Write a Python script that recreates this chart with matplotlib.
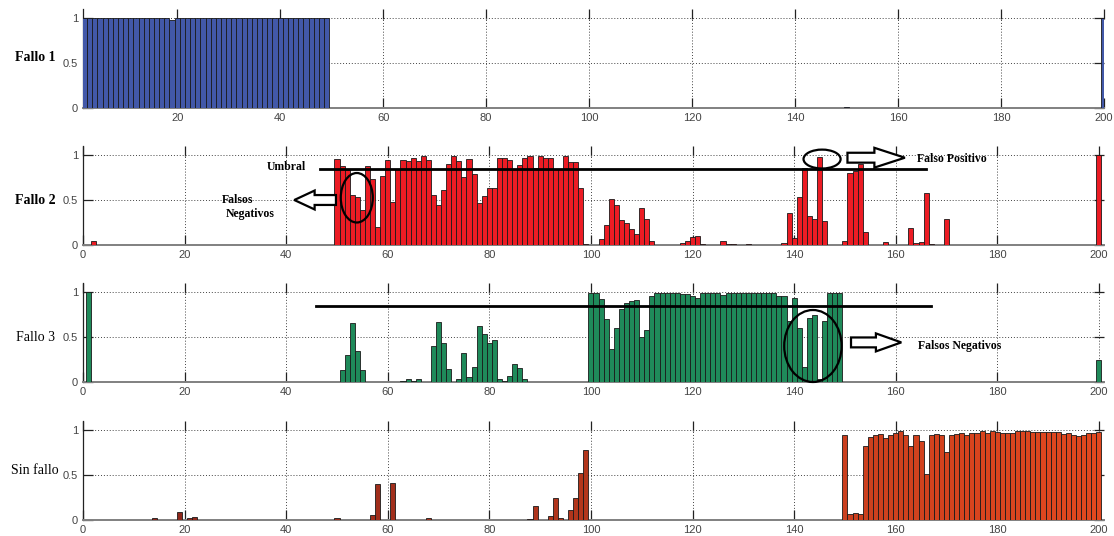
import numpy as np
from matplotlib import pyplot as plt
from matplotlib.patches import Ellipse, FancyArrow
from matplotlib.colors import LinearSegmentedColormap

# Fallo 1
f1_x = list(range(1, 50)) + [150, 184, 186, 187, 200]
f1_y = [1.0, 1.0, 1.0, 1.0, 1.0, 1.0, 1.0, 1.0, 1.0, 1.0,
        1.0, 1.0, 1.0, 1.0, 1.0, 1.0, 1.0, 1.0, 0.98, 1.0,
        1.0, 1.0, 1.0, 1.0, 1.0, 1.0, 1.0, 1.0, 1.0, 1.0,
        1.0, 1.0, 1.0, 1.0, 1.0, 1.0, 1.0, 1.0, 1.0, 1.0,
        1.0, 1.0, 1.0, 1.0, 1.0, 1.0, 1.0, 1.0, 1.0,
        0.012, 0.004, 0.004, 0.004, 1.0]

# Fallo 2
f2_x = ([1, 2] + list(range(50, 100)) + list(range(102, 113)) + list(range(117, 123))
        + [126, 127, 128, 131] + list(range(138, 147)) + list(range(150, 160))
        + list(range(163, 168)) + [170, 200])
f2_y = [0.005, 0.05,
        0.955, 0.874, 0.83, 0.555, 0.53, 0.39, 0.874, 0.73, 0.2, 0.77,
        0.944, 0.48, 0.84, 0.94, 0.93, 0.97, 0.93, 0.99, 0.94, 0.555,
        0.44, 0.61, 0.9, 0.985, 0.93, 0.76, 0.955, 0.79, 0.47, 0.545,
        0.63, 0.63, 0.97, 0.965, 0.944, 0.845, 0.89, 0.97, 0.985, 0.86,
        0.985, 0.965, 0.97, 0.845, 0.845, 0.99, 0.92, 0.92, 0.63, 0.01,
        0.067, 0.22, 0.51, 0.445, 0.28, 0.245, 0.18, 0.12, 0.41, 0.29, 0.05,
        0.005, 0.02, 0.04, 0.085, 0.095, 0.008,
        0.04, 0.007, 0.007, 0.007,
        0.02, 0.355, 0.078, 0.53, 0.86, 0.32, 0.29, 0.975, 0.27,
        0.04, 0.8, 0.826, 0.9, 0.14, 0.004, 0.004, 0.004, 0.03, 0.004,
        0.19, 0.02, 0.03, 0.575, 0.01,
        0.29, 1.0]

# Fallo 3
f3_x = ([1] + list(range(51, 56)) + list(range(63, 67)) + list(range(69, 73))
        + list(range(74, 88)) + [94] + list(range(100, 150)) + [200])
f3_y = [1.0,
        0.13, 0.30, 0.655, 0.35, 0.13,
        0.01, 0.037, 0.015, 0.037,
        0.40, 0.67, 0.437, 0.147,
        0.03, 0.32, 0.055, 0.165, 0.62, 0.535, 0.435, 0.47, 0.03, 0.01,
        0.063, 0.2, 0.155, 0.03,
        0.005,
        0.99, 0.99, 0.925, 0.70, 0.37, 0.60, 0.81, 0.875, 0.90, 0.915,
        0.50, 0.58, 0.955, 0.99, 0.99, 0.99, 0.99, 0.985, 0.98, 0.975,
        0.955, 0.93, 0.99, 0.99, 0.99, 0.99, 0.97, 0.99, 0.99, 0.99,
        0.99, 0.99, 0.99, 0.99, 0.99, 0.99, 0.99, 0.96, 0.955, 0.68,
        0.93, 0.60, 0.17, 0.71, 0.74, 0.03, 0.68, 0.99, 0.99, 0.99,
        0.25]

# Sin fallo
f4_x = ([3, 11, 14, 16, 19, 21, 22, 50, 57, 58, 60, 61, 68, 88, 89, 92, 93, 94,
         96, 97, 98, 99] + list(range(150, 201)))
f4_y = [0.005, 0.005, 0.025, 0.005, 0.09, 0.02, 0.035, 0.025, 0.055, 0.40,
        0.005, 0.41, 0.025, 0.01, 0.16, 0.045, 0.245, 0.02, 0.11, 0.245,
        0.52, 0.775,
        0.94, 0.066, 0.074, 0.066, 0.82, 0.92, 0.94, 0.95, 0.91, 0.948,
        0.97, 0.99, 0.948, 0.82, 0.94, 0.88, 0.51, 0.94, 0.96, 0.94,
        0.757, 0.948, 0.95, 0.963, 0.94, 0.963, 0.97, 0.985, 0.97, 0.985,
        0.978, 0.963, 0.97, 0.97, 0.985, 0.985, 0.985, 0.978, 0.978, 0.978,
        0.978, 0.978, 0.978, 0.95, 0.963, 0.948, 0.934, 0.948, 0.963, 0.97,
        0.978]

umbral = 0.85
nombres = ['Fallo 1', 'Fallo 2', 'Fallo 3', 'Sin fallo']

SERIF = 'Liberation Serif'


def estilo(ax, xmin, xmax, xticks):
    ax.set_xlim(xmin, xmax)
    ax.set_ylim(0, 1.1)
    ax.set_xticks(xticks)
    ax.set_yticks([0, 0.5, 1])
    ax.set_yticklabels(['0', '0.5', '1'])
    ax.grid(True, linestyle=(0, (1, 2)), color='#444444', linewidth=0.7)
    ax.set_axisbelow(True)
    ax.spines['top'].set_visible(False)
    ax.spines['right'].set_visible(False)
    ax.spines['left'].set_color('#222222')
    ax.spines['left'].set_linewidth(0.9)
    ax.spines['bottom'].set_color('#808080')
    ax.spines['bottom'].set_linewidth(1.4)
    ax.tick_params(direction='in', length=7, width=0.9, top=True, right=True,
                   colors='#222222', labelcolor='#444444', labelsize=8, pad=3.5)


def barras(ax, xs, ys, color):
    ax.bar(xs, ys, width=1.0, color=color, edgecolor='#1a1a1a', linewidth=0.6, zorder=3)


def flecha(ax, x0, x1, y, ancho, cabeza_ancho, cabeza_largo):
    a = FancyArrow(x0, y, x1 - x0, 0, width=ancho, head_width=cabeza_ancho,
                   head_length=cabeza_largo, length_includes_head=True,
                   facecolor='white', edgecolor='black', linewidth=1.6,
                   zorder=6, clip_on=False)
    ax.add_patch(a)


def elipse(ax, x, y, w, h):
    e = Ellipse((x, y), w, h, fill=False, edgecolor='black', linewidth=1.6,
                zorder=6, clip_on=False)
    ax.add_patch(e)


def main():
    plt.rcParams['font.family'] = ['Liberation Sans', 'DejaVu Sans']
    fig = plt.figure(figsize=(11.14, 5.36), dpi=100)
    left, width, height = 0.0745, 0.9165, 0.1847
    bottoms = [0.7985, 0.5429, 0.2873, 0.0299]
    axs = [fig.add_axes([left, b, width, height]) for b in bottoms]

    # Fallo 1
    ax = axs[0]
    barras(ax, f1_x, f1_y, '#4258a8')
    estilo(ax, 1.7, 200, np.arange(20, 201, 20))

    # Fallo 2
    ax = axs[1]
    barras(ax, f2_x, f2_y, '#ec1c24')
    estilo(ax, 0, 201, np.arange(0, 201, 20))
    ax.plot([46.7, 166], [umbral, umbral], color='black', linewidth=2, zorder=5)
    ax.text(40, 0.87, 'Umbral', family=SERIF, weight='bold', fontsize=8.5,
            ha='center', va='center')
    elipse(ax, 53.9, 0.525, 6.3, 0.55)
    flecha(ax, 49.8, 41.6, 0.5, 0.11, 0.21, 4.0)
    ax.text(30.4, 0.5, 'Falsos', family=SERIF, weight='bold', fontsize=8.5,
            ha='center', va='center')
    ax.text(33.0, 0.35, 'Negativos', family=SERIF, weight='bold', fontsize=8.5,
            ha='center', va='center')
    elipse(ax, 145.5, 0.955, 7.3, 0.21)
    flecha(ax, 150.5, 161.8, 0.97, 0.11, 0.22, 6.0)
    ax.text(171, 0.955, 'Falso Positivo', family=SERIF, weight='bold', fontsize=8.5,
            ha='center', va='center')

    # Fallo 3
    ax = axs[2]
    barras(ax, f3_x, f3_y, '#1f8a5a')
    estilo(ax, 0, 201, np.arange(0, 201, 20))
    ax.plot([45.8, 167], [umbral, umbral], color='black', linewidth=2, zorder=5)
    elipse(ax, 143.7, 0.4, 11.3, 0.8)
    flecha(ax, 151.2, 161.1, 0.44, 0.11, 0.2, 5.0)
    ax.text(172.5, 0.4, 'Falsos Negativos', family=SERIF, weight='bold', fontsize=8.5,
            ha='center', va='center')

    # Sin fallo, colores segun posicion
    ax = axs[3]
    cmap = LinearSegmentedColormap.from_list('rojo', ['#86241a', '#e2481f'])
    colores = [cmap(x / 200) for x in f4_x]
    barras(ax, f4_x, f4_y, colores)
    estilo(ax, 0, 201, np.arange(0, 201, 20))

    pesos = ['bold', 'bold', 'normal', 'normal']
    alturas = [0.56, 0.5, 0.5, 0.55]
    for ax, nombre, peso, h in zip(axs, nombres, pesos, alturas):
        ax.text(-0.047, h / 1.1, nombre, transform=ax.transAxes, family=SERIF,
                weight=peso, fontsize=10, ha='center', va='center')

    plt.savefig('out.png', dpi=100)


if __name__ == '__main__':
    main()
